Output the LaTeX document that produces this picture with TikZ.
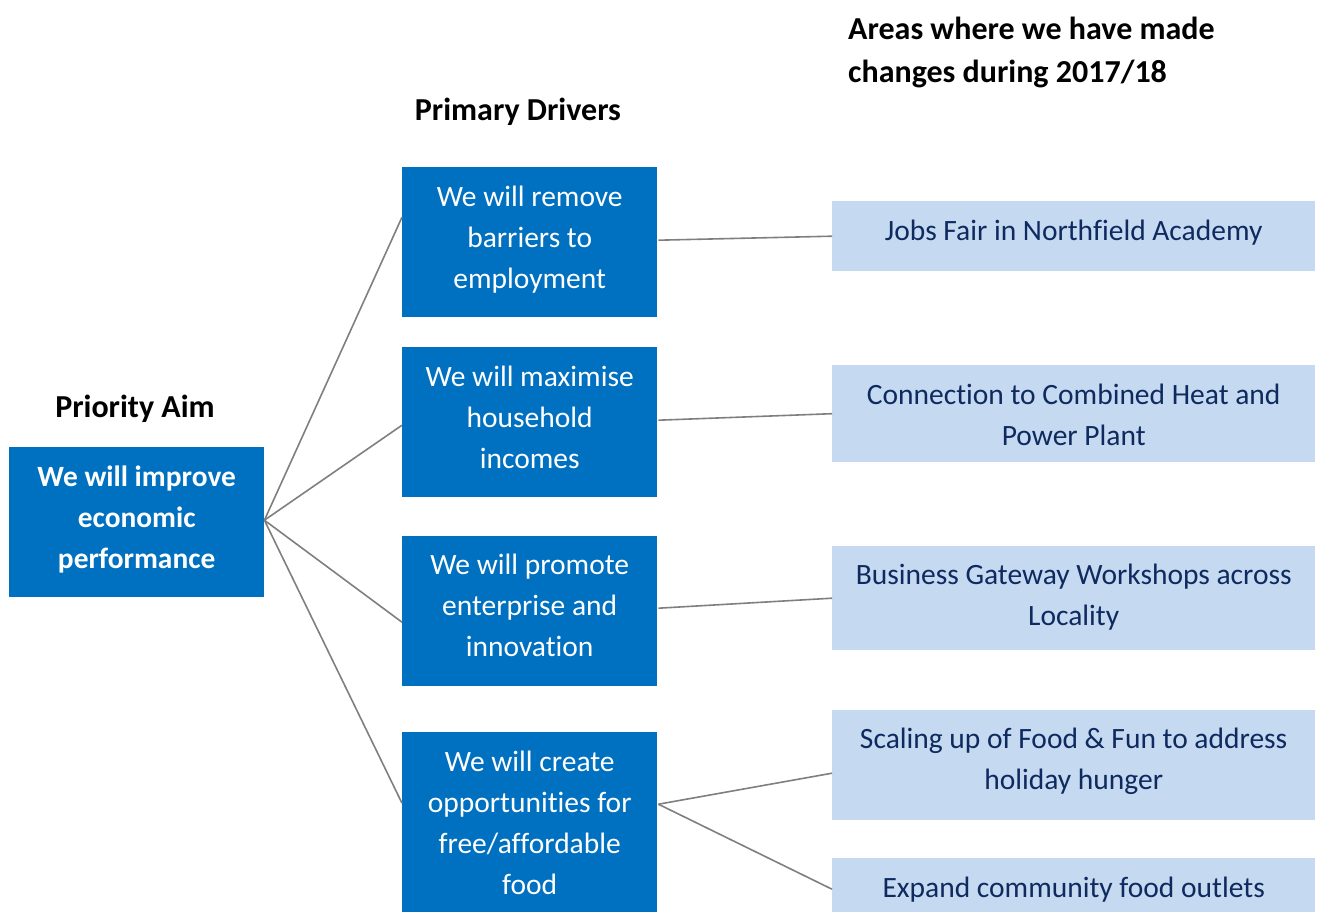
\documentclass[tikz,border=0pt]{standalone}
\usepackage{fontspec}
\setmainfont{Carlito}[Ligatures=NoCommon]
\definecolor{dblue}{HTML}{0070C0}
\definecolor{lblue}{HTML}{C5D9F1}
\definecolor{navy}{HTML}{0E2A5E}
\definecolor{conn}{HTML}{7F7F7F}
\begin{document}
\begin{tikzpicture}[x=1pt,y=-1pt,
  aimbox/.style={fill=dblue,inner sep=0pt,minimum width=255pt,minimum height=150pt,anchor=north west},
  drvbox/.style={fill=dblue,inner sep=0pt,minimum width=255pt,anchor=north west},
  chgbox/.style={fill=lblue,inner sep=0pt,minimum width=483pt,anchor=north west},
  aimtxt/.style={text=white,inner sep=0pt,align=center,font=\fontsize{29.4}{41}\selectfont\bfseries},
  drvtxt/.style={text=white,inner sep=0pt,align=center,font=\fontsize{29.5}{41}\selectfont},
  chgtxt/.style={text=navy,inner sep=0pt,align=center,font=\fontsize{29.5}{41}\selectfont},
  head/.style={inner sep=0pt,font=\fontsize{32}{43}\selectfont\bfseries,text=black},
  link/.style={draw=conn,line width=1.6pt}]
\useasboundingbox (0,0) rectangle (1319,912);
% headers
\node[head,align=left,anchor=north west] (hareas) at (848,17) {Areas where we have made\\changes during 2017/18};
\node[head] (hprim) at (518,112) {Primary Drivers};
\node[head] (haim) at (135,409) {Priority Aim};
% aim
\node[aimbox] (aim) at (9,447) {};
\node[aimtxt] (aimt) at ([yshift=3pt]aim.center) {We will improve\\economic\\performance};
% drivers
\node[drvbox,minimum height=150pt] (d1) at (402,167) {};
\node[drvbox,minimum height=150pt] (d2) at (402,347) {};
\node[drvbox,minimum height=150pt] (d3) at (402,536) {};
\node[drvbox,minimum height=180pt] (d4) at (402,732) {};
\node[drvtxt] (d1t) at ([yshift=3pt]d1.center) {We will remove\\barriers to\\employment};
\node[drvtxt] (d2t) at ([yshift=5pt]d2.center) {We will maximise\\household\\incomes};
\node[drvtxt] (d3t) at ([yshift=6pt]d3.center) {We will promote\\enterprise and\\innovation};
\node[drvtxt] (d4t) at ([yshift=-1pt]d4.center) {We will create\\opportunities for\\free/affordable\\food};
% changes
\node[chgbox,minimum height=70pt] (c1) at (832,201) {};
\node[chgbox,minimum height=97pt] (c2) at (832,365) {};
\node[chgbox,minimum height=104pt] (c3) at (832,546) {};
\node[chgbox,minimum height=110pt] (c4) at (832,710) {};
\node[chgbox,minimum height=54pt] (c5) at (832,858) {};
\node[chgtxt] (c1t) at ([yshift=4pt]c1.center) {Jobs Fair in Northfield Academy};
\node[chgtxt] (c2t) at ([yshift=-1pt]c2.center) {Connection to Combined Heat and\\Power Plant};
\node[chgtxt] (c3t) at ([yshift=1pt]c3.center) {Business Gateway Workshops across\\Locality};
\node[chgtxt] (c4t) at ([yshift=4pt]c4.center) {Scaling up of Food \& Fun to address\\holiday hunger};
\node[chgtxt] (c5t) at ([yshift=-4pt]c5.center) {Expand community food outlets};
% connectors
\draw[link] ([yshift=2pt]aim.east) -- ([yshift=25pt]d1.west);
\draw[link] ([yshift=2pt]aim.east) -- ([yshift=-3pt]d2.west);
\draw[link] ([yshift=2pt]aim.east) -- ([yshift=-11pt]d3.west);
\draw[link] ([yshift=2pt]aim.east) -- ([yshift=19pt]d4.west);
\draw[link] ([xshift=1pt,yshift=2pt]d1.east) -- ([yshift=0pt]c1.west);
\draw[link] ([xshift=1pt,yshift=2pt]d2.east) -- ([yshift=0pt]c2.west);
\draw[link] ([xshift=1pt,yshift=3pt]d3.east) -- ([yshift=0pt]c3.west);
\draw[link] ([xshift=1pt,yshift=18pt]d4.east) -- ([yshift=-8pt]c4.west);
\draw[link] ([xshift=1pt,yshift=18pt]d4.east) -- ([yshift=-4pt]c5.west);
\end{tikzpicture}
\end{document}
